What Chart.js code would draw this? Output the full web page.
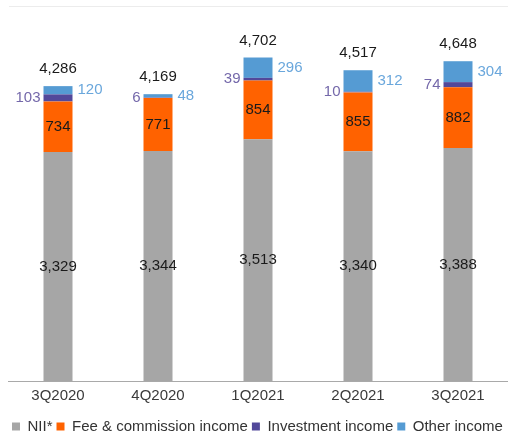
<!DOCTYPE html>
<html>
<head>
<meta charset="utf-8">
<script src="https://cdn.jsdelivr.net/npm/chart.js@4/dist/chart.umd.min.js"></script>
<style>
  html, body { margin: 0; padding: 0; background: #fff; }
  #wrap { width: 508px; height: 437px; position: relative; }
</style>
</head>
<body>
<div id="wrap"><canvas id="c"></canvas></div>
<script>
const categories = ['3Q2020', '4Q2020', '1Q2021', '2Q2021', '3Q2021'];
const nii = [3329, 3344, 3513, 3340, 3388];
const feeCommission = [734, 771, 854, 855, 882];
const investmentIncome = [103, 6, 39, 10, 74];
const otherIncome = [120, 48, 296, 312, 304];
const totals = [4286, 4169, 4702, 4517, 4648];
const seriesNames = ['NII*', 'Fee & commission income', 'Investment income', 'Other income'];

const FONT = '"Liberation Sans", Arial, sans-serif';
const fmt = v => v.toLocaleString('en-US');

const labelPlugin = {
  id: 'valueLabels',
  afterDatasetsDraw(chart) {
    const ctx = chart.ctx;
    ctx.save();
    ctx.font = '15px ' + FONT;
    const metas = [0, 1, 2, 3].map(i => chart.getDatasetMeta(i));
    categories.forEach((cat, j) => {
      [0, 1].forEach(i => {
        const el = metas[i].data[j];
        ctx.fillStyle = '#1a1a1a';
        ctx.textAlign = 'center';
        ctx.textBaseline = 'middle';
        ctx.fillText(fmt(chart.data.datasets[i].data[j]), el.x, (el.y + el.base) / 2);
      });
      const inv = metas[2].data[j];
      ctx.fillStyle = '#7468aa';
      ctx.textAlign = 'right';
      ctx.textBaseline = 'middle';
      ctx.fillText(fmt(investmentIncome[j]), inv.x - inv.width / 2 - 3, (inv.y + inv.base) / 2);
      const oth = metas[3].data[j];
      ctx.fillStyle = '#6aa7dc';
      ctx.textAlign = 'left';
      ctx.fillText(fmt(otherIncome[j]), oth.x + oth.width / 2 + 5, (oth.y + oth.base) / 2);
      const yTop = chart.scales.y.getPixelForValue(totals[j]);
      ctx.fillStyle = '#1a1a1a';
      ctx.textAlign = 'center';
      ctx.textBaseline = 'alphabetic';
      ctx.fillText(fmt(totals[j]), oth.x, yTop - 13);
    });
    ctx.restore();
  }
};

const topRule = {
  id: 'topRule',
  beforeDraw(chart) {
    const ctx = chart.ctx;
    ctx.save();
    ctx.strokeStyle = '#ececec';
    ctx.lineWidth = 1;
    ctx.beginPath();
    ctx.moveTo(9, 6.5);
    ctx.lineTo(508, 6.5);
    ctx.stroke();
    ctx.restore();
  }
};

const colors = ['#a6a6a6', '#ff6200', '#52489a', '#559bd3'];
const seriesData = [nii, feeCommission, investmentIncome, otherIncome];

new Chart(document.getElementById('c'), {
  type: 'bar',
  data: {
    labels: categories,
    datasets: seriesData.map((d, i) => ({
      label: seriesNames[i],
      data: d,
      backgroundColor: colors[i],
      borderWidth: 0,
      categoryPercentage: 1,
      barPercentage: 0.29
    }))
  },
  options: {
    responsive: true,
    maintainAspectRatio: false,
    animation: false,
    devicePixelRatio: 1,
    layout: { padding: { top: 37, left: 8, right: -2, bottom: -7 } },
    scales: {
      x: {
        stacked: true,
        grid: { display: false, drawTicks: false },
        border: { display: true, color: '#a9a9a9', width: 1 },
        ticks: { color: '#3a3a3a', font: { family: FONT, size: 15 }, padding: 6 },
        afterFit(scale) { scale.height += 4; }
      },
      y: {
        stacked: true,
        display: false,
        min: 0,
        max: 5000
      }
    },
    plugins: {
      legend: {
        position: 'bottom',
        align: 'start',
        labels: {
          boxWidth: 8,
          boxHeight: 8,
          padding: 4,
          color: '#333',
          font: { family: FONT, size: 15 }
        }
      },
      tooltip: { enabled: false }
    }
  },
  plugins: [labelPlugin, topRule]
});
</script>
</body>
</html>
